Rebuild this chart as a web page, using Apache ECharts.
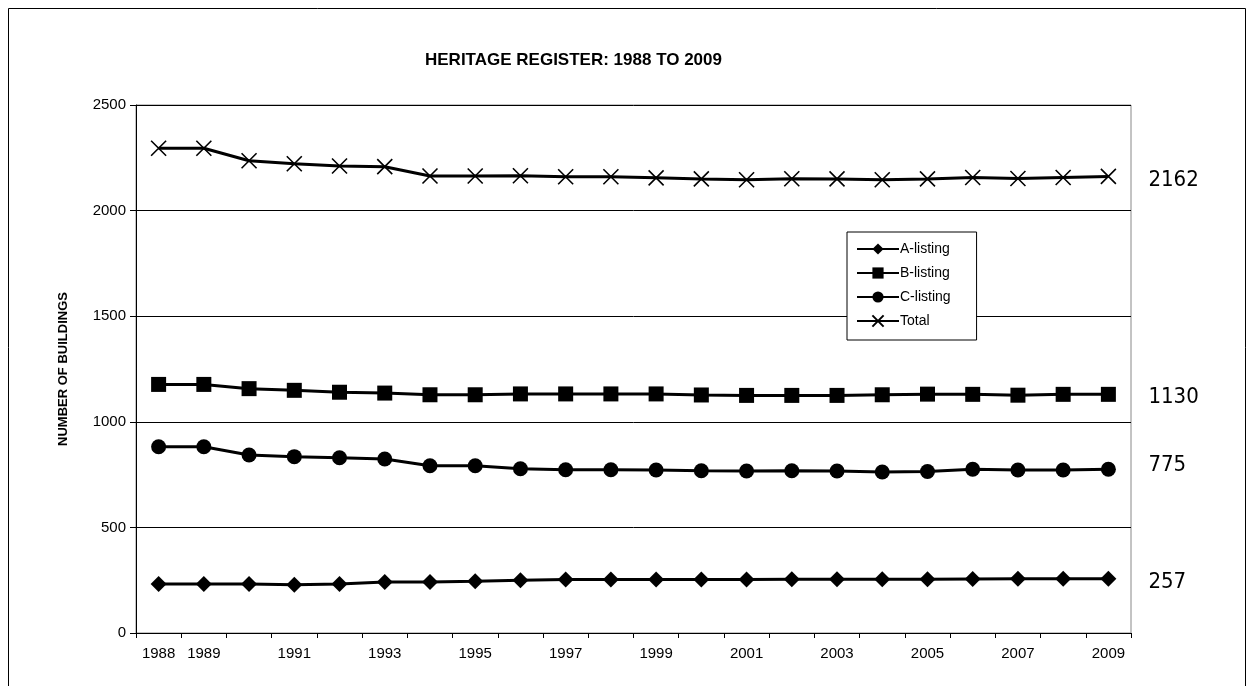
<!DOCTYPE html>
<html>
<head>
<meta charset="utf-8">
<script src="https://cdn.jsdelivr.net/npm/echarts@6/dist/echarts.min.js"></script>
<style>html,body{margin:0;padding:0;background:#fff;}#c{width:1254px;height:686px;}</style>
</head>
<body>
<div id="c"></div>
<script>
var years = ['1988','1989','1990','1991','1992','1993','1994','1995','1996','1997','1998','1999','2000','2001','2002','2003','2004','2005','2006','2007','2008','2009'];
var aListing = [232,232,232,229,232,241,241,245,250,253,253,253,253,253,255,255,255,255,256,257,257,257];
var bListing = [1177,1177,1157,1149,1140,1136,1128,1128,1132,1132,1132,1132,1127,1125,1125,1125,1128,1131,1130,1126,1130,1130];
var cListing = [882,882,843,835,830,824,792,792,778,773,773,772,768,767,768,767,762,765,775,772,772,775];
var total = [2295,2295,2236,2222,2211,2208,2164,2164,2165,2160,2160,2155,2150,2146,2151,2150,2146,2150,2157,2152,2157,2162];
var yTicks = [0,500,1000,1500,2000,2500];

var FONT = 'Liberation Sans, Arial, sans-serif';
var chart = echarts.init(document.getElementById('c'));
var endLbl = function(dy){
  return {show:true, formatter:function(p){return p.value;}, distance:40, offset:[0,dy],
    color:'#000', fontSize:22, fontFamily:'"Liberation Sans Narrow","DejaVu Sans Condensed",sans-serif'};
};
function mk(name, data, symbol, size, dy, stroke){
  return {
    name:name, type:'line', data:data, symbol:symbol, symbolSize:size,
    lineStyle:{color:'#000', width:3},
    itemStyle:{color:'#000', borderColor:'#000', borderWidth: stroke || 0},
    emphasis:{disabled:true},
    endLabel:endLbl(dy)
  };
}
chart.setOption({
  animation:false,
  backgroundColor:'#fff',
  title:{text:'HERITAGE REGISTER: 1988 TO 2009', left:420, top:47,
    textStyle:{fontFamily:FONT, fontSize:17, fontWeight:'bold', color:'#000'}},
  graphic:[{type:'rect', shape:{x:8.5,y:8.5,width:1237,height:700}, style:{fill:'none', stroke:'#000', lineWidth:1}, silent:true}],
  legend:{orient:'vertical', left:847, top:232, itemGap:10, itemWidth:42, itemHeight:14,
    backgroundColor:'#fff', borderColor:'#000', borderWidth:1, padding:[10,26,12,9],
    textStyle:{fontFamily:FONT, fontSize:14, color:'#000', padding:[0,0,0,-4]},
    data:['A-listing','B-listing','C-listing','Total']},
  grid:{left:136, right:123, top:105, bottom:53, show:true, borderColor:'#888', borderWidth:1, backgroundColor:'transparent'},
  xAxis:{type:'category', data:years, boundaryGap:true,
    axisLine:{lineStyle:{color:'#000', width:1}},
    axisTick:{show:true, alignWithLabel:false, interval:0, length:5, lineStyle:{color:'#000'}},
    axisLabel:{interval:function(i){return i===0 || i%2===1;}, margin:13, color:'#000', fontSize:15, fontFamily:FONT}},
  yAxis:{type:'value', min:yTicks[0], max:yTicks[yTicks.length-1], interval:500,
    name:'NUMBER OF BUILDINGS', nameLocation:'middle', nameGap:66, nameRotate:90,
    nameTextStyle:{fontFamily:FONT, fontSize:13, fontWeight:'bold', color:'#000', letterSpacing:-0.9},
    axisLine:{show:true, lineStyle:{color:'#000', width:1}},
    axisTick:{show:true, length:6, lineStyle:{color:'#000'}},
    splitLine:{show:true, lineStyle:{color:'#000', width:1}},
    axisLabel:{color:'#000', fontSize:15, margin:10, fontFamily:FONT, formatter:function(v){return String(v);}}},
  series:[
    mk('A-listing', aListing, 'path://M0,-1L1,0L0,1L-1,0Z', 16, 4),
    mk('B-listing', bListing, 'rect', 15, 3),
    mk('C-listing', cListing, 'circle', 15, -4),
    mk('Total', total, 'path://M0,0L10,10M10,0L0,10', 15, 4, 1.6)
  ]
});
</script>
</body>
</html>
